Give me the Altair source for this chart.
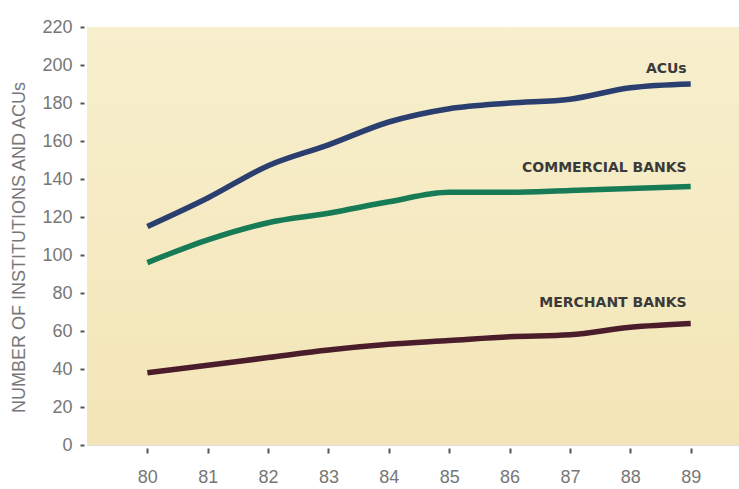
import altair as alt
import pandas as pd

# Number of institutions and ACUs, 1980-1989
years = [80, 81, 82, 83, 84, 85, 86, 87, 88, 89]
acus = [115, 130, 147, 158, 170, 177, 180, 182, 188, 190]
commercial_banks = [96, 108, 117, 122, 128, 133, 133, 134, 135, 136]
merchant_banks = [38, 42, 46, 50, 53, 55, 57, 58, 62, 64]
y_ticks = [0, 20, 40, 60, 80, 100, 120, 140, 160, 180, 200, 220]

series_names = ["ACUs", "COMMERCIAL BANKS", "MERCHANT BANKS"]
series_colors = ["#2b3e70", "#177c56", "#4b1d2b"]
label_y = [198, 146, 75]

rows = []
for name, vals in zip(series_names, [acus, commercial_banks, merchant_banks]):
    for yr, v in zip(years, vals):
        rows.append({"year": yr, "value": v, "series": name})
df = pd.DataFrame(rows)

labels = pd.DataFrame({"series": series_names, "year": [years[-1]] * 3, "value": label_y})

W, H = 652, 418

x_scale = alt.Scale(domain=[79, 89.8], nice=False, zero=False)
y_scale = alt.Scale(domain=[0, 220], nice=False)
color_scale = alt.Scale(domain=series_names, range=series_colors)

x_axis = alt.Axis(
    values=years, format="d", title=None, domain=False, grid=False,
    offset=3, tickSize=5, tickWidth=2, tickColor="#555555",
    labelPadding=15, labelFontSize=18, labelColor="#777777",
    labelFont="Liberation Sans", labelOverlap=False,
)
y_axis = alt.Axis(
    values=y_ticks, format="d",
    title="NUMBER OF INSTITUTIONS AND ACUs",
    domain=False, grid=False, offset=3, tickSize=4, tickWidth=2,
    tickColor="#555555", labelPadding=8, labelFontSize=18,
    labelColor="#777777", labelFont="Liberation Sans", labelOverlap=False,
    titleFont="Liberation Sans", titleFontSize=18, titleFontWeight="normal",
    titleColor="#777777", titleX=-56, titleY=220, titleAlign="center",
    titleBaseline="bottom", titleAngle=270,
)

background = alt.Chart(pd.DataFrame({"k": [0]})).mark_rect(
    color=alt.Gradient(
        gradient="linear",
        stops=[alt.GradientStop(color="#f7efcd", offset=0),
               alt.GradientStop(color="#f3e5b7", offset=1)],
        x1=0, x2=0, y1=0, y2=1,
    )
).encode(x=alt.value(0), x2=alt.value(W), y=alt.value(0), y2=alt.value(H))

lines = alt.Chart(df).mark_line(
    strokeWidth=5.5, interpolate="monotone", strokeCap="butt"
).encode(
    x=alt.X("year:Q", scale=x_scale, axis=x_axis),
    y=alt.Y("value:Q", scale=y_scale, axis=y_axis),
    color=alt.Color("series:N", scale=color_scale, legend=None),
    detail="series:N",
)

text = alt.Chart(labels).mark_text(
    align="right", baseline="middle", dx=-4, font="DejaVu Sans",
    fontSize=14, fontWeight="bold", color="#3a3a3a",
).encode(
    x=alt.X("year:Q", scale=x_scale, axis=x_axis),
    y=alt.Y("value:Q", scale=y_scale, axis=y_axis),
    text="series:N",
)

chart = alt.layer(background, lines, text).properties(
    width=W, height=H,
    autosize=alt.AutoSizeParams(type="none"),
    padding={"left": 87, "top": 27, "right": 0, "bottom": 44},
).configure_view(stroke=None).configure(background="white")

chart.save("out.html", embed_options={"renderer": "svg", "actions": False})
